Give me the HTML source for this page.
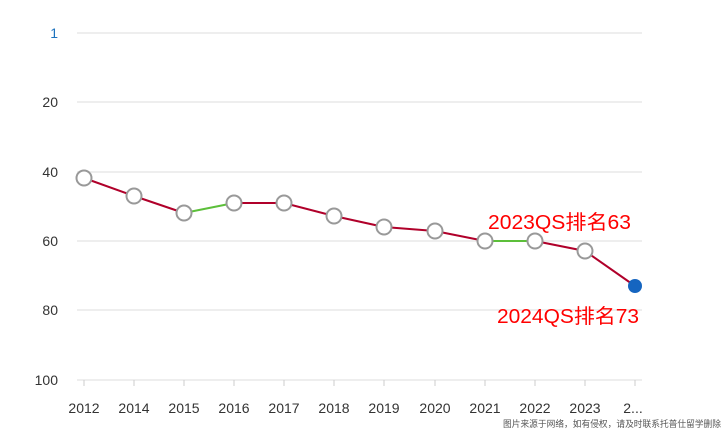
<!DOCTYPE html>
<html><head><meta charset="utf-8"><style>body{margin:0;background:#fff}svg{display:block}</style></head><body>
<svg width="722" height="435" xmlns="http://www.w3.org/2000/svg" font-family="Liberation Sans, Noto Sans CJK SC, sans-serif">
<g stroke="#eeeeee" stroke-width="2">
<line x1="77" y1="33" x2="642" y2="33"/><line x1="77" y1="102" x2="642" y2="102"/><line x1="77" y1="172" x2="642" y2="172"/><line x1="77" y1="241" x2="642" y2="241"/><line x1="77" y1="310" x2="642" y2="310"/>
</g>
<line x1="77" y1="380" x2="642" y2="380" stroke="#ddd" stroke-width="1"/>
<g stroke="#ccc">
<line x1="84" y1="380" x2="84" y2="386"/><line x1="134" y1="380" x2="134" y2="386"/><line x1="184" y1="380" x2="184" y2="386"/><line x1="234" y1="380" x2="234" y2="386"/><line x1="284" y1="380" x2="284" y2="386"/><line x1="334" y1="380" x2="334" y2="386"/><line x1="384" y1="380" x2="384" y2="386"/><line x1="435" y1="380" x2="435" y2="386"/><line x1="485" y1="380" x2="485" y2="386"/><line x1="535" y1="380" x2="535" y2="386"/><line x1="585" y1="380" x2="585" y2="386"/><line x1="635" y1="380" x2="635" y2="386"/>
</g>
<g font-size="14" fill="#333" text-anchor="end">
<text x="58" y="38" fill="#1e73be">1</text><text x="58" y="107">20</text><text x="58" y="177">40</text><text x="58" y="246">60</text><text x="58" y="315">80</text><text x="58" y="385">100</text>
</g>
<g font-size="14" fill="#333" text-anchor="middle">
<text x="84" y="413">2012</text><text x="134" y="413">2014</text><text x="184" y="413">2015</text><text x="234" y="413">2016</text><text x="284" y="413">2017</text><text x="334" y="413">2018</text><text x="384" y="413">2019</text><text x="435" y="413">2020</text><text x="485" y="413">2021</text><text x="535" y="413">2022</text><text x="585" y="413">2023</text><text x="633" y="413">2...</text>
</g>
<g stroke-width="2" fill="none">
<polyline points="84,178 134,196 184,213" stroke="#b0002a"/>
<line x1="184" y1="213" x2="234" y2="203" stroke="#5cbf3a"/>
<polyline points="234,203 284,203 334,216 384,227 435,231 485,241" stroke="#b0002a"/>
<line x1="485" y1="241" x2="535" y2="241" stroke="#5cbf3a"/>
<polyline points="535,241 585,251 635,286" stroke="#b0002a"/>
</g>
<g fill="#fff" stroke="#999" stroke-width="2">
<circle cx="84" cy="178" r="7.5"/><circle cx="134" cy="196" r="7.5"/><circle cx="184" cy="213" r="7.5"/><circle cx="234" cy="203" r="7.5"/><circle cx="284" cy="203" r="7.5"/><circle cx="334" cy="216" r="7.5"/><circle cx="384" cy="227" r="7.5"/><circle cx="435" cy="231" r="7.5"/><circle cx="485" cy="241" r="7.5"/><circle cx="535" cy="241" r="7.5"/><circle cx="585" cy="251" r="7.5"/>
</g>
<circle cx="635" cy="286" r="7" fill="#1565c0"/>
<text x="488" y="229" font-size="20" fill="#f00" textLength="143" lengthAdjust="spacingAndGlyphs">2023QS排名63</text>
<text x="497" y="323" font-size="20" fill="#f00" textLength="142" lengthAdjust="spacingAndGlyphs">2024QS排名73</text>
<text x="503" y="427" font-size="9" fill="#555" textLength="218" lengthAdjust="spacingAndGlyphs">图片来源于网络，如有侵权，请及时联系托普仕留学删除</text>
</svg>
</body></html>
